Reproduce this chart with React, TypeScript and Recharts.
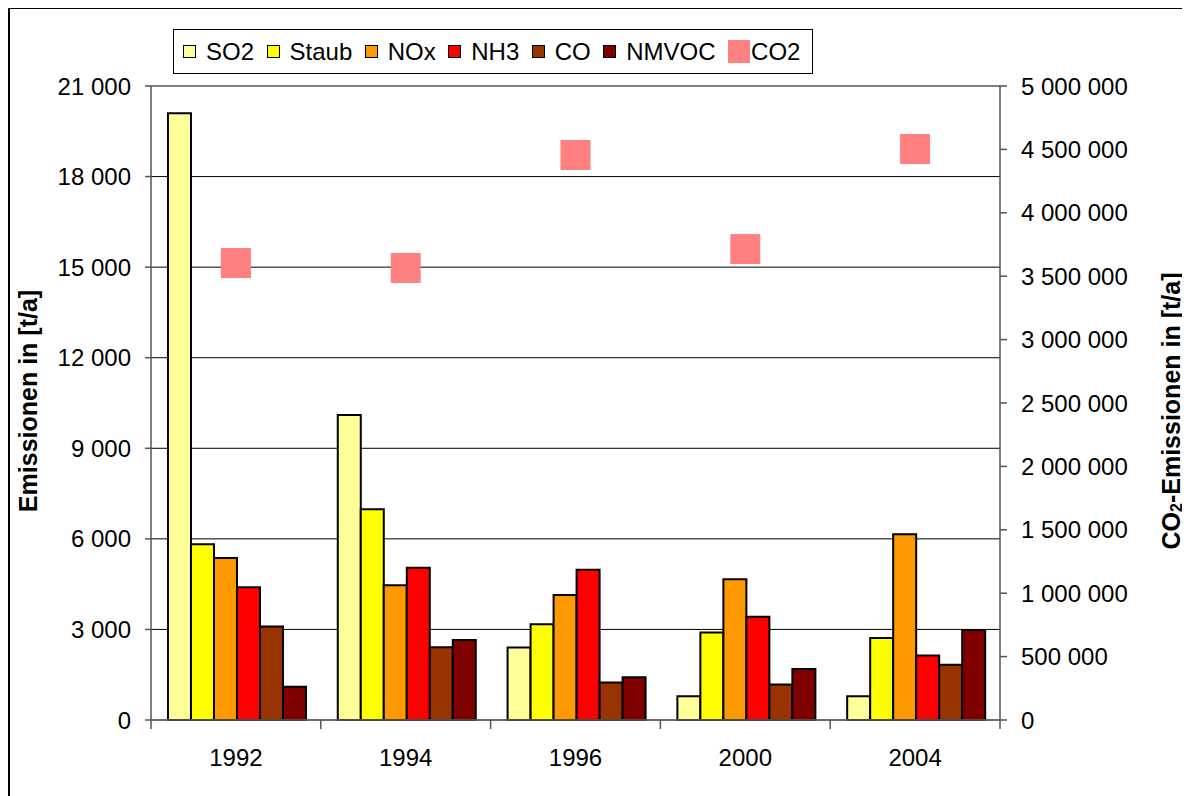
import { ComposedChart, Bar, Line, XAxis, YAxis, CartesianGrid, Legend } from 'recharts';

const years = ['1992', '1994', '1996', '2000', '2004'];
const so2 = [20100, 10100, 2400, 790, 790];
const staub = [5820, 6980, 3170, 2900, 2720];
const nox = [5370, 4460, 4140, 4660, 6150];
const nh3 = [4400, 5040, 4980, 3420, 2140];
const co = [3100, 2410, 1240, 1180, 1830];
const nmvoc = [1100, 2650, 1420, 1690, 2980];
const co2 = [3604000, 3565000, 4456000, 3714000, 4503000];

const leftTicks = [0, 3000, 6000, 9000, 12000, 15000, 18000, 21000];
const rightTicks = [0, 500000, 1000000, 1500000, 2000000, 2500000, 3000000, 3500000, 4000000, 4500000, 5000000];

const barSeries = [
  { key: 'SO2', color: '#FFFF99' },
  { key: 'Staub', color: '#FFFF00' },
  { key: 'NOx', color: '#FF9900' },
  { key: 'NH3', color: '#FF0000' },
  { key: 'CO', color: '#993300' },
  { key: 'NMVOC', color: '#800000' },
];
const co2Color = '#FF8080';

const data = years.map((year, i) => ({
  year,
  SO2: so2[i],
  Staub: staub[i],
  NOx: nox[i],
  NH3: nh3[i],
  CO: co[i],
  NMVOC: nmvoc[i],
  CO2: co2[i],
}));

const font = '"Liberation Sans", Arial, sans-serif';

// 21000 -> "21 000"
const fmt = (v: number) => String(v).replace(/\B(?=(\d{3})+(?!\d))/g, ' ');

const YearTick = (props: any) => {
  const { x, y, payload, index, visibleTicksCount } = props;
  const half = payload?.offset ?? 0;
  return (
    <g>
      <line x1={x - half} x2={x - half} y1={y} y2={y + 9} stroke="#555" strokeWidth={1.5} />
      {index === visibleTicksCount - 1 && (
        <line x1={x + half} x2={x + half} y1={y} y2={y + 9} stroke="#555" strokeWidth={1.5} />
      )}
      <text x={x} y={y + 46} textAnchor="middle" fontSize={24} fontFamily={font} fill="#000">
        {payload.value}
      </text>
    </g>
  );
};

const Co2Dot = (props: any) => {
  const { cx, cy } = props;
  if (cx == null || cy == null) return <g />;
  return <rect x={cx - 15} y={cy - 15} width={30} height={30} fill={co2Color} />;
};

const LeftTitle = (props: any) => {
  const vb = props.viewBox || { x: 0, y: 0, width: 0, height: 0 };
  const cx = vb.x + 20;
  const cy = vb.y + vb.height / 2 - 2;
  return (
    <text
      x={cx}
      y={cy}
      transform={`rotate(-90, ${cx}, ${cy})`}
      textAnchor="middle"
      dominantBaseline="central"
      fontSize={25}
      fontWeight="bold"
      fontFamily={font}
      fill="#000"
    >
      Emissionen in [t/a]
    </text>
  );
};

const RightTitle = (props: any) => {
  const vb = props.viewBox || { x: 0, y: 0, width: 0, height: 0 };
  const cx = vb.x + 171;
  const cy = vb.y + vb.height / 2 + 8;
  return (
    <text
      x={cx}
      y={cy}
      transform={`rotate(-90, ${cx}, ${cy})`}
      textAnchor="middle"
      dominantBaseline="central"
      fontSize={25}
      fontWeight="bold"
      fontFamily={font}
      fill="#000"
    >
      CO<tspan fontSize={16} dy={5}>2</tspan>
      <tspan dy={-5}>-Emissionen in [t/a]</tspan>
    </text>
  );
};

const LegendBox = () => (
  <div
    style={{
      display: 'flex',
      alignItems: 'center',
      boxSizing: 'border-box',
      height: 45,
      padding: '0 12px 0 9px',
      border: '1.5px solid #000',
      background: '#fff',
      fontFamily: font,
      fontSize: 24,
      color: '#000',
      whiteSpace: 'nowrap',
    }}
  >
    {barSeries.map(s => (
      <span key={s.key} style={{ display: 'flex', alignItems: 'center', marginRight: 12.5 }}>
        <span
          style={{
            display: 'inline-block',
            width: 13,
            height: 13,
            boxSizing: 'border-box',
            background: s.color,
            border: '1.5px solid #000',
            marginRight: 10,
          }}
        />
        <span>{s.key}</span>
      </span>
    ))}
    <span style={{ display: 'flex', alignItems: 'center' }}>
      <span style={{ display: 'inline-block', width: 22, height: 23, background: co2Color, marginRight: 1 }} />
      <span>CO2</span>
    </span>
  </div>
);

export default function App() {
  return (
    <div style={{ position: 'relative', width: 1182, height: 788 }}>
      <div
        style={{
          position: 'absolute',
          left: 0,
          top: -1,
          width: 1182,
          height: 789,
          borderLeft: '2px solid #000',
          borderTop: '2px solid #000',
          pointerEvents: 'none',
        }}
      />
      <ComposedChart
        width={1182}
        height={788}
        data={data}
        margin={{ top: 78, right: 0, bottom: 0, left: 0 }}
        barCategoryGap="10%"
        barGap={0}
      >
        <CartesianGrid yAxisId="left" vertical={false} stroke="#000" strokeWidth={1} />
        <XAxis
          dataKey="year"
          height={76}
          tickLine={false}
          tickSize={0}
          tickMargin={0}
          stroke="#666"
          strokeWidth={1.5}
          tick={<YearTick />}
          interval={0}
        />
        <YAxis
          yAxisId="left"
          width={143}
          domain={[0, 21000]}
          ticks={leftTicks}
          tickFormatter={fmt}
          tickSize={6}
          tickMargin={14}
          stroke="#555"
          strokeWidth={1.5}
          tick={{ fill: '#000', fontSize: 24, fontFamily: font }}
          label={<LeftTitle />}
        />
        <YAxis
          yAxisId="right"
          orientation="right"
          width={190}
          domain={[0, 5000000]}
          ticks={rightTicks}
          tickFormatter={fmt}
          tickSize={7}
          tickMargin={14}
          stroke="#555"
          strokeWidth={1.5}
          tick={{ fill: '#000', fontSize: 24, fontFamily: font, textAnchor: 'start' }}
          label={<RightTitle />}
        />
        <Legend
          layout="horizontal"
          verticalAlign="middle"
          align="center"
          wrapperStyle={{ top: 21, left: 165, width: 'auto', height: 'auto' }}
          content={() => <LegendBox />}
        />
        {barSeries.map(s => (
          <Bar
            key={s.key}
            yAxisId="left"
            dataKey={s.key}
            fill={s.color}
            stroke="#000"
            strokeWidth={2}
            isAnimationActive={false}
          />
        ))}
        <Line
          yAxisId="right"
          dataKey="CO2"
          stroke="none"
          dot={<Co2Dot />}
          activeDot={false}
          isAnimationActive={false}
        />
      </ComposedChart>
    </div>
  );
}
